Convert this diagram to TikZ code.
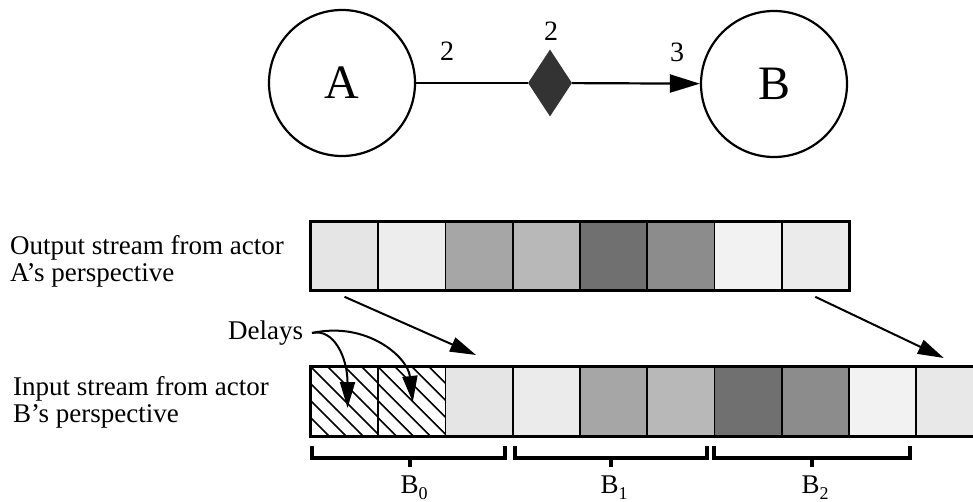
\documentclass[tikz,border=0pt]{standalone}
\usepackage{fontspec}
\setmainfont{Liberation Serif}
\usetikzlibrary{shapes.geometric,arrows.meta,calc}
\begin{document}
\begin{tikzpicture}[x=1pt,y=-1pt,
  actor/.style={circle,draw,line width=2.2pt,minimum size=146pt,inner sep=0pt,font=\fontsize{48}{48}\selectfont},
  edgeline/.style={line width=2.2pt},
  numlab/.style={font=\fontsize{28}{28}\selectfont,inner sep=0pt},
  cellbox/.style={draw,line width=1.8pt,minimum width=67.25pt,inner sep=0pt,anchor=north west},
  lab/.style={font=\fontsize{27}{27}\selectfont,inner sep=0pt,anchor=base west},
  ptr/.style={line width=2pt,-{Triangle[length=26pt,width=15pt]}},
  brk/.style={line width=3.4pt},
  blab/.style={font=\fontsize{27}{27}\selectfont,inner sep=0pt,anchor=base},
  hatched/.style={path picture={
     \foreach \k in {-5,...,4}
       \draw[line width=1.6pt] ($(path picture bounding box.north west)+(\k*17,0)$) -- ++(75,75);}}
]
\useasboundingbox (0,0) rectangle (973,502);
\clip (0,0) rectangle (973,502);

% top graph
\node[actor] (A) at (342,83) {A};
\node[actor] (B) at (774,84) {B};
\node[diamond,fill=black!80,minimum width=44pt,minimum height=67pt,inner sep=0pt] (D) at (550,83) {};
\draw[edgeline] (A) -- (D);
\draw[edgeline,-{Triangle[length=30pt,width=18pt]}] (D) -- (B);
\node[numlab] (n1) at (447,51) {2};
\node[numlab] (n2) at (551,31) {2};
\node[numlab] (n3) at (677,52) {3};

% output stream
\foreach \i/\c in {1/10,2/7,3/35,4/28,5/56,6/45,7/5,8/8}
  \node[cellbox,minimum height=68pt,fill=black!\c] (o\i) at ({310+(\i-1)*67.25},221) {};
\draw[line width=2.6pt] (o1.north west) rectangle (o8.south east);

% input stream
\node[cellbox,minimum height=69pt,fill=white,hatched] (i1) at (310,366) {};
\node[cellbox,minimum height=69pt,fill=white,hatched] (i2) at (377.25,366) {};
\foreach \i/\c in {3/10,4/8,5/35,6/28,7/56,8/45,9/5,10/9}
  \node[cellbox,minimum height=69pt,fill=black!\c] (i\i) at ({310+(\i-1)*67.25},366) {};
\draw[line width=2.6pt] (i1.north west) rectangle (i10.south east);

% labels
\node[lab] (out1) at (10,255) {Output stream from actor};
\node[lab] (out2) at (10,281) {A’s perspective};
\node[lab] (in1) at (13,395) {Input stream from actor};
\node[lab] (in2) at (13,422) {B’s perspective};
\node[lab] (delays) at (228,339) {Delays};

% stream arrows
\coordinate (s1) at ($(o1.south)+(0,6)$);
\coordinate (t1) at ($(i3.north)+(-3,-11)$);
\coordinate (s2) at ($(o8.south)+(0,6)$);
\coordinate (t2) at ($(i10.north)+(-6,-8)$);
\draw[ptr] (s1) -- (t1);
\draw[ptr] (s2) -- (t2);

% delay arrows
\coordinate (ds) at (312,333);
\coordinate (d1) at ($(i1.north)+(3,42)$);
\coordinate (d2) at ($(i2.north)+(1,36)$);
\draw[ptr] (ds) .. controls +(22,-5) and +(0,-50) .. (d1);
\draw[ptr] (ds) .. controls +(55,-12) and +(-5,-45) .. (d2);

% brackets
\draw[brk] (312,446) -- (312,458) -- (505,458) -- (505,446);
\draw[brk] (410,458) -- (410,467);
\draw[brk] (515,446) -- (515,458) -- (707,458) -- (707,446);
\draw[brk] (611,458) -- (611,467);
\draw[brk] (714,446) -- (714,458) -- (910,458) -- (910,446);
\draw[brk] (812,458) -- (812,467);
\node[blab] (b0) at (414,493) {B\raisebox{-6pt}{\fontsize{18}{18}\selectfont 0}};
\node[blab] (b1) at (614,493) {B\raisebox{-6pt}{\fontsize{18}{18}\selectfont 1}};
\node[blab] (b2) at (815,493) {B\raisebox{-6pt}{\fontsize{18}{18}\selectfont 2}};
\end{tikzpicture}
\end{document}
